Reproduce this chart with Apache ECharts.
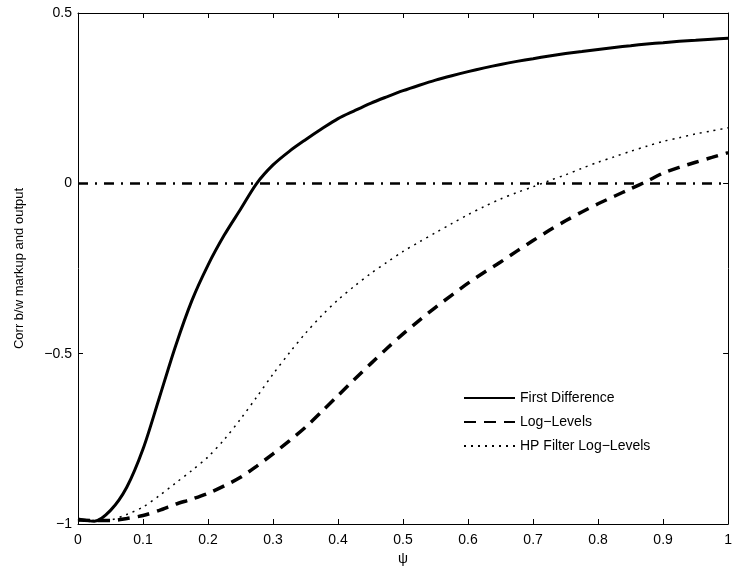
<!DOCTYPE html>
<html>
<head>
<meta charset="utf-8">
<script src="https://cdn.jsdelivr.net/npm/echarts@6/dist/echarts.min.js"></script>
<style>
  html, body { margin: 0; padding: 0; background: #fff; }
  #main { width: 735px; height: 573px; }
</style>
</head>
<body>
<div id="main"></div>
<script>
    // psi grid, step 0.025
    var psi = [0, 0.025, 0.05, 0.075, 0.1, 0.125, 0.15, 0.175, 0.2, 0.225, 0.25, 0.275, 0.3, 0.325,
        0.35, 0.375, 0.4, 0.425, 0.45, 0.475, 0.5, 0.525, 0.55, 0.575, 0.6, 0.625, 0.65, 0.675,
        0.7, 0.725, 0.75, 0.775, 0.8, 0.825, 0.85, 0.875, 0.9, 0.925, 0.95, 0.975, 1];
    var firstDiff = [-0.985, -0.992, -0.96, -0.892, -0.78, -0.63, -0.478, -0.345, -0.24, -0.152, -0.076, 0.0,
        0.054, 0.094, 0.128, 0.16, 0.19, 0.213, 0.235, 0.254, 0.272, 0.288, 0.303, 0.316, 0.328, 0.339,
        0.349, 0.358, 0.366, 0.374, 0.381, 0.387, 0.393, 0.399, 0.404, 0.409, 0.413, 0.417, 0.42, 0.423, 0.426];
    var logLevels = [-0.988, -0.99, -0.99, -0.984, -0.975, -0.96, -0.942, -0.927, -0.91, -0.888, -0.863, -0.83,
        -0.794, -0.756, -0.716, -0.67, -0.623, -0.576, -0.53, -0.485, -0.442, -0.402, -0.364, -0.328,
        -0.293, -0.261, -0.231, -0.199, -0.168, -0.138, -0.11, -0.084, -0.06, -0.038, -0.016, 0.006,
        0.03, 0.047, 0.062, 0.076, 0.09];
    var hpFilter = [-0.99, -0.99, -0.988, -0.972, -0.95, -0.917, -0.88, -0.843, -0.803, -0.752, -0.692, -0.627,
        -0.56, -0.498, -0.44, -0.388, -0.342, -0.302, -0.265, -0.232, -0.2, -0.172, -0.145, -0.118,
        -0.092, -0.068, -0.046, -0.027, -0.01, 0.008, 0.025, 0.044, 0.062, 0.078, 0.094, 0.109,
        0.123, 0.134, 0.145, 0.154, 0.163];
    var seriesNames = ['First Difference', 'Log\u2212Levels', 'HP Filter Log\u2212Levels'];
    var xTicks = {min: 0, max: 1, step: 0.1};
    var yTicks = {min: -1, max: 0.5, step: 0.5};

    function pairs(arr) {
        return psi.map(function (x, i) { return [x, arr[i]]; });
    }
    function fmt(v) {
        var s = (Math.round(v * 10) / 10).toString();
        return s.replace('-', '\u2212');
    }

    var font = 'Liberation Sans, Arial, Helvetica, sans-serif';
    var tickStyle = {show: true, inside: true, length: 5, lineStyle: {color: '#000', width: 1}};

    var myChart = echarts.init(document.getElementById('main'));
    var option = {
        animation: false,
        backgroundColor: '#fff',
        grid: {left: 78, right: 1, top: 13, bottom: 49, show: false},
        legend: {
            left: 458, top: 386,
            orient: 'vertical',
            itemWidth: 51, itemHeight: 14, itemGap: 10,
            data: seriesNames,
            itemStyle: {opacity: 0},
            textStyle: {fontFamily: font, fontSize: 14, color: '#000'}
        },
        xAxis: [{
            type: 'value', min: xTicks.min, max: xTicks.max, interval: xTicks.step,
            name: '\u03c8', nameLocation: 'middle', nameGap: 28,
            nameTextStyle: {fontFamily: font, fontSize: 14, color: '#000'},
            axisLine: {show: true, onZero: false, lineStyle: {color: '#000', width: 1}},
            axisTick: tickStyle,
            axisLabel: {fontFamily: font, fontSize: 14, color: '#000', margin: 9, formatter: fmt},
            splitLine: {show: false}
        }, {
            type: 'value', position: 'top', min: xTicks.min, max: xTicks.max, interval: xTicks.step,
            axisLine: {show: true, onZero: false, lineStyle: {color: '#000', width: 1}},
            axisTick: tickStyle, axisLabel: {show: false}, splitLine: {show: false}
        }],
        yAxis: [{
            type: 'value', min: yTicks.min, max: yTicks.max, interval: yTicks.step,
            name: 'Corr b/w markup and output', nameLocation: 'middle', nameGap: 52,
            nameTextStyle: {fontFamily: font, fontSize: 13, color: '#000'},
            axisLine: {show: true, onZero: false, lineStyle: {color: '#000', width: 1}},
            axisTick: tickStyle,
            axisLabel: {fontFamily: font, fontSize: 14, color: '#000', margin: 6, formatter: fmt},
            splitLine: {show: false}
        }, {
            type: 'value', position: 'right', min: yTicks.min, max: yTicks.max, interval: yTicks.step,
            axisLine: {show: true, onZero: false, lineStyle: {color: '#000', width: 1}},
            axisTick: tickStyle, axisLabel: {show: false}, splitLine: {show: false}
        }],
        series: [{
            name: seriesNames[0], type: 'line', smooth: 0.3, symbol: 'none',
            data: pairs(firstDiff),
            lineStyle: {color: '#000', width: 3, type: 'solid'},
            itemStyle: {color: '#000'},
            markLine: {
                silent: true, symbol: 'none', label: {show: false},
                lineStyle: {color: '#000', width: 2.5, type: [10, 7, 2, 7]},
                data: [{yAxis: 0}]
            }
        }, {
            name: seriesNames[1], type: 'line', smooth: 0.3, symbol: 'none',
            data: pairs(logLevels),
            lineStyle: {color: '#000', width: 3.5, type: [12, 8]},
            itemStyle: {color: '#000'}
        }, {
            name: seriesNames[2], type: 'line', smooth: 0.3, symbol: 'none',
            data: pairs(hpFilter),
            lineStyle: {color: '#000', width: 1.5, type: [2, 5]},
            itemStyle: {color: '#000'}
        }]
    };
    myChart.setOption(option);
</script>
</body>
</html>
